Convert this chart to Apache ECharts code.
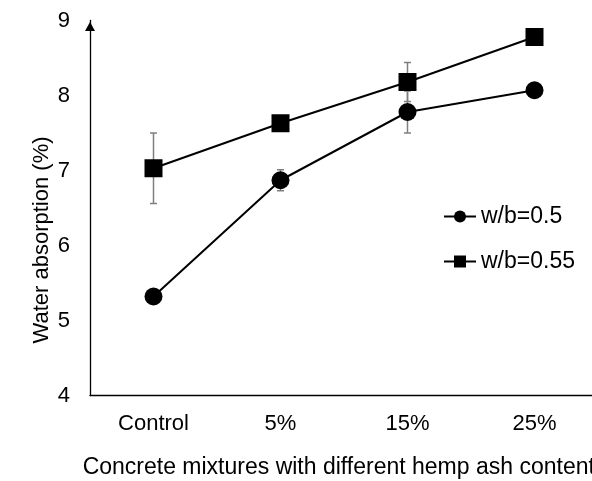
<!DOCTYPE html>
<html>
<head>
<meta charset="utf-8">
<script src="https://cdn.jsdelivr.net/npm/echarts@6/dist/echarts.min.js"></script>
<style>
html, body { margin: 0; padding: 0; background: #fff; }
#chart { width: 592px; height: 481px; }
</style>
</head>
<body>
<div id="chart"></div>
<script>
const categories = ['Control', '5%', '15%', '25%'];
const seriesNames = ['w/b=0.5', 'w/b=0.55'];
const wb050 = [5.32, 6.87, 7.78, 8.07];
const wb055 = [7.03, 7.63, 8.18, 8.78];
const err050 = [0.05, 0.14, 0.28, 0.05];
const err055 = [0.47, 0.10, 0.26, 0.05];
const yMin = 4, yMax = 9, yInterval = 1;
const xAxisTitle = 'Concrete mixtures with different hemp ash content';
const yAxisTitle = 'Water absorption (%)';

const FONT = 'Liberation Sans, Arial, sans-serif';

function errData(vals, errs) {
  return vals.map((v, i) => [i, v - errs[i], v + errs[i]]);
}

function renderErr(params, api) {
  const x = api.value(0);
  const lo = api.coord([x, api.value(1)]);
  const hi = api.coord([x, api.value(2)]);
  const cap = 3.5;
  const style = { stroke: '#7f7f7f', lineWidth: 1.5, fill: null };
  return {
    type: 'group',
    children: [
      { type: 'line', shape: { x1: lo[0], y1: lo[1], x2: hi[0], y2: hi[1] }, style },
      { type: 'line', shape: { x1: lo[0] - cap, y1: lo[1], x2: lo[0] + cap, y2: lo[1] }, style },
      { type: 'line', shape: { x1: hi[0] - cap, y1: hi[1], x2: hi[0] + cap, y2: hi[1] }, style }
    ]
  };
}

const chart = echarts.init(document.getElementById('chart'), null, { renderer: 'canvas' });
chart.setOption({
  animation: false,
  backgroundColor: '#ffffff',
  grid: { left: 90, top: 20.5, width: 508, height: 375, containLabel: false, outerBoundsMode: 'none' },
  legend: {
    orient: 'vertical',
    left: 443,
    top: 205,
    padding: 0,
    itemWidth: 32,
    itemHeight: 15,
    itemGap: 22,
    data: seriesNames,
    textStyle: { fontSize: 23, fontFamily: FONT, color: '#000' }
  },
  xAxis: {
    type: 'category',
    data: categories,
    boundaryGap: true,
    name: xAxisTitle,
    nameLocation: 'middle',
    nameGap: 61,
    nameTextStyle: { fontSize: 23, fontFamily: FONT, color: '#000', padding: [0, 10.5, 0, 0] },
    axisLine: { lineStyle: { color: '#000', width: 1.3 } },
    axisTick: { show: false },
    axisLabel: { fontSize: 22, fontFamily: FONT, color: '#000', margin: 17 },
    splitLine: { show: false }
  },
  yAxis: {
    type: 'value',
    min: yMin,
    max: yMax,
    interval: yInterval,
    axisLine: {
      show: true,
      lineStyle: { color: '#000', width: 1.3 },
      symbol: ['none', 'triangle'],
      symbolSize: [10, 9],
      symbolOffset: [0, -6]
    },
    axisTick: { show: false },
    axisLabel: { fontSize: 22, fontFamily: FONT, color: '#000', margin: 20 },
    splitLine: { show: false }
  },
  graphic: [{
    type: 'text',
    x: 42,
    y: 240,
    rotation: Math.PI / 2,
    style: {
      text: yAxisTitle,
      fontSize: 22,
      fontFamily: FONT,
      fill: '#000',
      align: 'center',
      verticalAlign: 'middle'
    }
  }],
  series: [
    {
      type: 'custom',
      name: 'err050',
      renderItem: renderErr,
      data: errData(wb050, err050),
      z: 1,
      silent: true
    },
    {
      type: 'custom',
      name: 'err055',
      renderItem: renderErr,
      data: errData(wb055, err055),
      z: 1,
      silent: true
    },
    {
      type: 'line',
      name: seriesNames[0],
      data: wb050,
      symbol: 'circle',
      symbolSize: 18,
      lineStyle: { color: '#000', width: 2 },
      itemStyle: { color: '#000' },
      z: 3
    },
    {
      type: 'line',
      name: seriesNames[1],
      data: wb055,
      symbol: 'rect',
      symbolSize: 18,
      lineStyle: { color: '#000', width: 2 },
      itemStyle: { color: '#000' },
      z: 3
    }
  ]
});
</script>
</body>
</html>
